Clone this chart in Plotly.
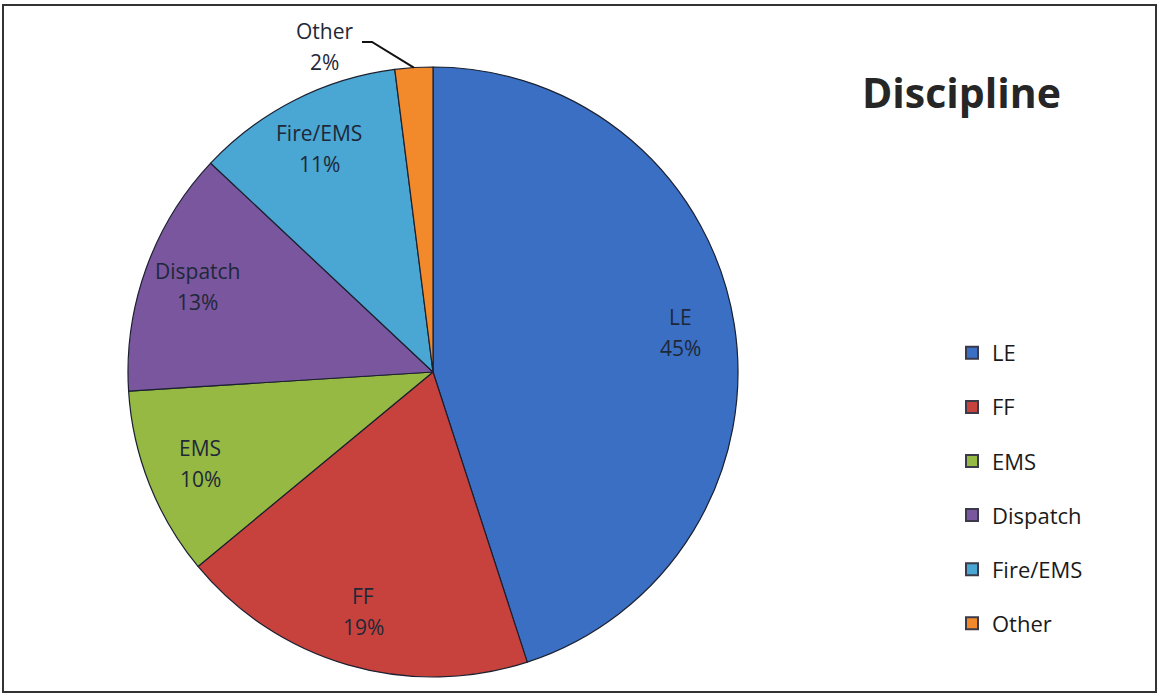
import math
import plotly.graph_objects as go

W, H = 1159, 696

categories = ["LE", "FF", "EMS", "Dispatch", "Fire/EMS", "Other"]
values = [45, 19, 10, 13, 11, 2]
colors = ["#3a6fc4", "#c8423d", "#96b944", "#7a569f", "#4aa6d2", "#f28a2c"]
label_font = "Open Sans"

# pie geometry (pixels)
cx, cy, R = 433, 372, 305
def px2paper(x, y):
    return x / W, 1 - y / H

fig = go.Figure()
fig.add_trace(go.Pie(
    labels=categories, values=values, sort=False, direction="clockwise", rotation=0,
    marker=dict(colors=colors, line=dict(color="#1b2030", width=1.2)),
    textinfo="none", showlegend=False, hoverinfo="label+percent",
    domain=dict(x=[(cx - R) / W, (cx + R) / W], y=[1 - (cy + R) / H, 1 - (cy - R) / H]),
))

# legend entries
for c, col in zip(categories, colors):
    fig.add_trace(go.Scatter(
        x=[None], y=[None], mode="markers", name=c, legendgroup=c,
        marker=dict(symbol="square", size=12, color=col, line=dict(color="#3a3a4a", width=1)),
    ))

annotations = []
shapes = []
total = sum(values)
cum = 0
for c, v in zip(categories, values):
    mid = (cum + v / 2) / total * 2 * math.pi
    cum += v
    if c == "Other":
        ex, ey = cx + R * math.sin(mid), cy - R * math.cos(mid)
        p0 = px2paper(ex, ey)
        p1 = px2paper(372, 42)
        p2 = px2paper(362, 42)
        shapes.append(dict(type="path", xref="paper", yref="paper",
                           path=f"M {p0[0]},{p0[1]} L {p1[0]},{p1[1]} L {p2[0]},{p2[1]}",
                           line=dict(color="#111", width=2)))
        lx, ly = px2paper(324, 47)
    else:
        r = 0.82 * R
        lx, ly = px2paper(cx + r * math.sin(mid), cy - r * math.cos(mid))
    for txt, dy in ((c, 16), (f"{v}%", -15)):
        annotations.append(dict(x=lx, y=ly, xref="paper", yref="paper", text=txt, showarrow=False,
                                xanchor="center", yanchor="middle", yshift=dy,
                                font=dict(family=label_font, size=21, color="#1e2838")))

annotations.append(dict(x=961 / W, y=1 - 92 / H, xref="paper", yref="paper", text="<b>Discipline</b>",
                        showarrow=False, xanchor="center", yanchor="middle",
                        font=dict(family=label_font, size=41, color="#262626")))

shapes.append(dict(type="rect", xref="paper", yref="paper", x0=3 / W, x1=1156 / W,
                   y0=1 - 692 / H, y1=1 - 5 / H, line=dict(color="#333", width=2)))

fig.update_layout(
    width=W, height=H, margin=dict(l=0, r=0, t=0, b=0),
    paper_bgcolor="white", plot_bgcolor="white",
    xaxis=dict(visible=False), yaxis=dict(visible=False),
    annotations=annotations, shapes=shapes,
    legend=dict(x=952 / W, y=1 - 332 / H, xanchor="left", yanchor="top",
                font=dict(family=label_font, size=22, color="#1a1a1a"),
                tracegroupgap=22.5, itemsizing="constant", bgcolor="rgba(0,0,0,0)"),
)

fig.write_html("out.html")
